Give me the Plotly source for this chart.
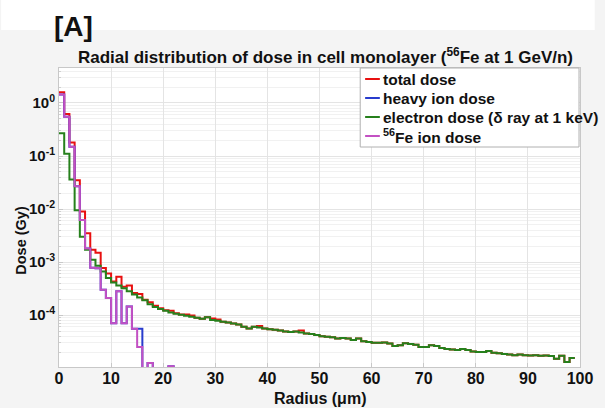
import plotly.graph_objects as go

# ---------------- data ----------------
# dose per 1-um radial bin, bin i spans [i, i+1] um
total_dose = [
    1.6, 0.62, 0.18, 0.035, 0.009, 0.0035, 0.0017, 0.0015, 7.7e-4, 6.1e-4,
    4.3e-4, 5.3e-4, 3.4e-4, 3.6e-4, 2.6e-4, 2.5e-4, 1.95e-4, 1.75e-4, 1.5e-4, 1.35e-4,
    1.23e-4, 1.2e-4, 1.08e-4, 1.02e-4, 1.02e-4, 9.8e-5, 8.9e-5, 8.5e-5, 9.1e-5, 8.6e-5,
    8.2e-5, 7.5e-5, 7.2e-5, 6.9e-5, 6.6e-5, 6.0e-5, 5.6e-5, 6.0e-5, 6.2e-5, 5.6e-5,
    5.4e-5, 5.3e-5, 5.1e-5, 4.9e-5, 4.8e-5, 4.9e-5, 5.1e-5, 4.5e-5, 4.4e-5, 4.2e-5,
    4.0e-5, 3.9e-5, 3.8e-5, 3.6e-5, 3.7e-5, 3.6e-5, 3.4e-5, 3.6e-5, 3.2e-5, 3.1e-5,
    3.0e-5, 3.0e-5, 3.05e-5, 2.9e-5, 2.6e-5, 2.7e-5, 2.95e-5, 2.85e-5, 2.75e-5, 2.5e-5,
    2.5e-5, 2.7e-5, 2.6e-5, 2.4e-5, 2.3e-5, 2.25e-5, 2.2e-5, 2.3e-5, 2.2e-5, 2.05e-5,
    2.0e-5, 2.0e-5, 2.1e-5, 1.95e-5, 1.9e-5, 1.85e-5, 1.8e-5, 1.75e-5, 1.8e-5, 1.75e-5,
    1.72e-5, 1.75e-5, 1.7e-5, 1.72e-5, 1.68e-5, 1.5e-5, 1.7e-5, 1.3e-5, 1.55e-5,
]
electron_dose = [
    0.27, 0.11, 0.036, 0.0095, 0.0030, 0.0017, 0.0011, 8.5e-4, 6.6e-4, 5.0e-4,
    4.1e-4, 3.6e-4, 3.2e-4, 2.8e-4, 2.45e-4, 2.15e-4, 1.9e-4, 1.6e-4, 1.42e-4, 1.3e-4,
    1.2e-4, 1.12e-4, 1.06e-4, 1.01e-4, 9.7e-5, 9.3e-5, 8.9e-5, 8.5e-5, 9.1e-5, 8.1e-5,
    7.8e-5, 7.5e-5, 7.2e-5, 6.9e-5, 6.6e-5, 6.0e-5, 5.6e-5, 6.0e-5, 5.8e-5, 5.6e-5,
    5.4e-5, 5.3e-5, 5.1e-5, 4.9e-5, 4.8e-5, 4.9e-5, 4.7e-5, 4.5e-5, 4.4e-5, 4.2e-5,
    4.0e-5, 3.9e-5, 3.8e-5, 3.6e-5, 3.7e-5, 3.6e-5, 3.4e-5, 3.6e-5, 3.2e-5, 3.1e-5,
    3.0e-5, 3.0e-5, 3.05e-5, 2.9e-5, 2.6e-5, 2.7e-5, 2.95e-5, 2.85e-5, 2.75e-5, 2.5e-5,
    2.5e-5, 2.7e-5, 2.6e-5, 2.4e-5, 2.3e-5, 2.25e-5, 2.2e-5, 2.3e-5, 2.2e-5, 2.05e-5,
    2.0e-5, 2.0e-5, 2.1e-5, 1.95e-5, 1.9e-5, 1.85e-5, 1.8e-5, 1.75e-5, 1.8e-5, 1.75e-5,
    1.72e-5, 1.75e-5, 1.7e-5, 1.72e-5, 1.68e-5, 1.5e-5, 1.7e-5, 1.3e-5, 1.55e-5,
]
heavy_ion_dose = [
    1.45, 0.55, 0.15, 0.027, 0.0062, 0.0018, 7.8e-4, 7.6e-4, 3.0e-4, 2.1e-4,
    7.0e-5, 2.8e-4, 7.0e-5, 1.45e-4, 5.5e-5, 5.5e-5, 0, 1.25e-5, 0, 0,
    0, 1.08e-5, 0,
]
fe_ion_dose = [
    1.45, 0.55, 0.15, 0.027, 0.0062, 0.0018, 7.8e-4, 7.6e-4, 3.0e-4, 2.1e-4,
    7.0e-5, 2.8e-4, 7.0e-5, 1.45e-4, 5.5e-5, 2.5e-5, 0, 1.25e-5, 0, 0,
    0, 1.08e-5, 0,
]
series_names = ["total dose", "heavy ion dose",
                "electron dose (δ ray at 1 keV)", "<sup>56</sup>Fe ion dose"]
x_tick_values = [0, 10, 20, 30, 40, 50, 60, 70, 80, 90, 100]
y_tick_values = [1, 1e-1, 1e-2, 1e-3, 1e-4]
y_tick_labels = ["10<sup>0</sup>", "10<sup>-1</sup>", "10<sup>-2</sup>",
                 "10<sup>-3</sup>", "10<sup>-4</sup>"]

# ---------------- styling ----------------
colors = ["rgb(232,16,16)", "rgb(40,60,205)", "rgb(38,128,28)", "rgb(195,80,195)"]
FONT = "Liberation Sans, Arial, Helvetica, sans-serif"
LOG_FLOOR = 1e-9  # zero-valued bins drawn below the axis (log scale)

W, H = 605, 408
L, R, T, B = 59, 590, 68, 367


def px_x(p):
    return (p - L) / (R - L)


def px_y(p):
    return (B - p) / (B - T)


def step(vals):
    xs = list(range(len(vals) + 1))
    ys = [v if v > 0 else LOG_FLOOR for v in vals]
    ys = ys + [ys[-1]]
    return xs, ys


fig = go.Figure()
for vals, name, col in zip([total_dose, heavy_ion_dose, electron_dose, fe_ion_dose],
                           series_names, colors):
    xs, ys = step(vals)
    fig.add_trace(go.Scatter(x=xs, y=ys, mode="lines", name=name,
                             line=dict(color=col, width=2, shape="hv"),
                             showlegend=False))

fig.update_layout(
    width=W, height=H,
    margin=dict(l=L, r=W - R, t=T, b=H - B),
    paper_bgcolor="#f4f4f4",
    plot_bgcolor="white",
    font=dict(family=FONT, color="#111"),
)
fig.update_xaxes(
    range=[0, 100], tickvals=x_tick_values,
    showgrid=True, gridcolor="#e4e4e4", gridwidth=1,
    showline=True, linecolor="#c8c8c8", mirror=True,
    ticks="inside", ticklen=4, tickcolor="#c8c8c8",
    ticklabelstandoff=-3,
    tickfont=dict(size=16, weight="bold", family=FONT, color="#111"),
    zeroline=False,
)
fig.update_yaxes(
    type="log", range=[-4.98, 0.66],
    tickvals=y_tick_values, ticktext=y_tick_labels,
    showgrid=True, gridcolor="#e4e4e4", gridwidth=1,
    showline=True, linecolor="#c8c8c8", mirror=True,
    ticks="inside", ticklen=4, tickcolor="#c8c8c8",
    tickfont=dict(size=15, weight="bold", family=FONT, color="#111"),
    minor=dict(showgrid=True, gridcolor="#f1f1f1", dtick="D1",
               ticks="inside", ticklen=2, tickcolor="#d0d0d0"),
    zeroline=False,
)

# white strip at the top of the figure
fig.add_shape(type="rect", xref="paper", yref="paper",
              x0=px_x(0), x1=px_x(W), y0=px_y(30), y1=px_y(0),
              fillcolor="white", line=dict(width=0), layer="below")

# panel label and title
fig.add_annotation(text="<b>[A]</b>", xref="paper", yref="paper",
                   x=px_x(52), y=px_y(26), xanchor="left", yanchor="middle",
                   showarrow=False, font=dict(size=28, family=FONT, color="#111"))
fig.add_annotation(text="<b>Radial distribution of dose in cell monolayer (<sup>56</sup>Fe at 1 GeV/n)</b>",
                   xref="paper", yref="paper", x=px_x(331), y=px_y(56),
                   xanchor="center", yanchor="middle", showarrow=False,
                   font=dict(size=17, family=FONT, color="#111"))
# axis titles
fig.add_annotation(text="<b>Radius (μm)</b>", xref="paper", yref="paper",
                   x=px_x(325), y=px_y(398), xanchor="center", yanchor="middle",
                   showarrow=False, font=dict(size=16, family=FONT, color="#111"))
fig.add_annotation(text="<b>Dose (Gy)</b>", xref="paper", yref="paper",
                   x=px_x(20), y=px_y(240), xanchor="center", yanchor="middle",
                   textangle=-90, showarrow=False,
                   font=dict(size=14.5, family=FONT, color="#111"))

# legend box
fig.add_shape(type="rect", xref="paper", yref="paper",
              x0=px_x(366), x1=px_x(589), y0=px_y(147), y1=px_y(68),
              fillcolor="white", line=dict(color="#b0b0b0", width=1))
rows = [79, 98, 117, 136]
for name, col, ry in zip(series_names, colors, rows):
    fig.add_shape(type="line", xref="paper", yref="paper",
                  x0=px_x(371), x1=px_x(386), y0=px_y(ry), y1=px_y(ry),
                  line=dict(color=col, width=2))
    fig.add_annotation(text="<b>" + name + "</b>", xref="paper", yref="paper",
                       x=px_x(387), y=px_y(ry), xanchor="left", yanchor="middle",
                       showarrow=False, font=dict(size=15.5, family=FONT, color="#111"))

fig.write_html("out.html", config={"displayModeBar": False})

# remove the browser's default page margin so the figure sits at (0, 0)
with open("out.html", "r", encoding="utf-8") as f:
    html = f.read()
html = html.replace("<head>", "<head><style>html,body{margin:0;padding:0;overflow:hidden}</style>", 1)
with open("out.html", "w", encoding="utf-8") as f:
    f.write(html)
